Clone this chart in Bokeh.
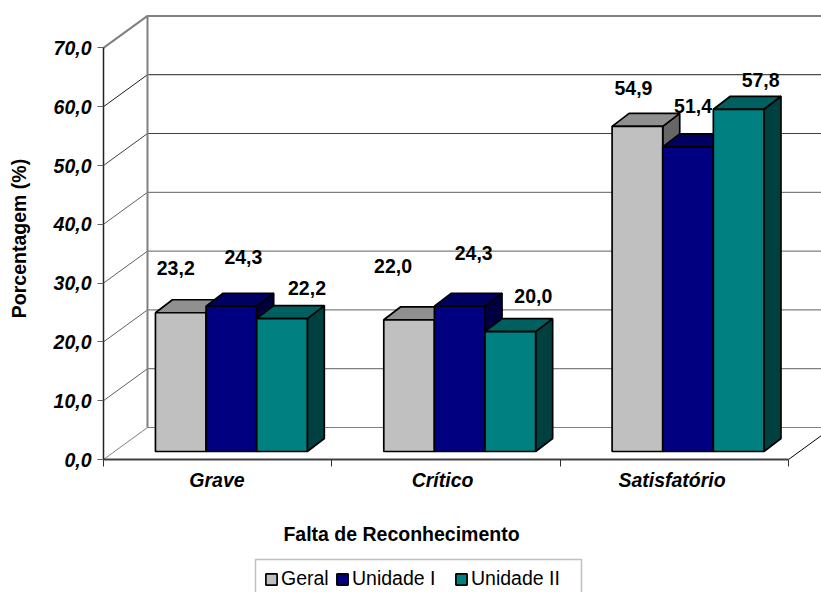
from bokeh.plotting import figure
from bokeh.models import BoxAnnotation, ColumnDataSource, FixedTicker, Legend, LegendItem, Label, Range1d
from bokeh.core.properties import value
from bokeh.embed import file_html
from bokeh.resources import INLINE

categories = ["Grave", "Crítico", "Satisfatório"]
series_names = ["Geral", "Unidade I", "Unidade II"]
geral = [23.2, 22.0, 54.9]
unidade1 = [24.3, 24.3, 51.4]
unidade2 = [22.2, 20.0, 57.8]
y_ticks = [0, 10, 20, 30, 40, 50, 60, 70]
y_labels = ["0,0", "10,0", "20,0", "30,0", "40,0", "50,0", "60,0", "70,0"]
labels = [["23,2", "22,0", "54,9"], ["24,3", "24,3", "51,4"], ["22,2", "20,0", "57,8"]]

values = [geral, unidade1, unidade2]
front = ["#C0C0C0", "#000080", "#008080"]
top = ["#909090", "#000060", "#006060"]
side = ["#666666", "#000040", "#004040"]
grid_colors = ["#808080", "#606060", "#606060", "#606060", "#606060", "#404040", "#202020", "#808080"]
label_dx = [[-5, -16, -4], [12, 14, 5], [25, 23, 22]]
label_dy = [[47, 56, 41], [52, 56, 43], [33, 38, 32]]
legend_x = [264, 335, 454]

FONT = "Liberation Sans"
SIZE = "19.5px"
PX_X, PX_Y = 228.33, 5.88          # pixels per category, pixels per percent
WALL_X, WALL_Y = 0.1927, 5.44      # depth of the back wall in data units
BAR_DX, BAR_DY = 0.0745, 2.21      # depth of a bar
BASE = 1.36                        # gap between floor front edge and bar base
LIFT = 0.4
BAR_W = 0.2217
BAR_START = 0.2275

p = figure(width=821, height=592, frame_width=821, frame_height=592,
           x_range=Range1d(-103 / PX_X, 718 / PX_X), y_range=Range1d(-133 / PX_Y, 459 / PX_Y),
           output_backend="svg", toolbar_location=None,
           min_border_left=0, min_border_right=0, min_border_top=0, min_border_bottom=0)
p.outline_line_color = None
p.xgrid.visible = False
p.ygrid.visible = False
X_END = 718 / PX_X

# back wall and floor
for v, c in zip(y_ticks, grid_colors):
    w = 2 if v == 70 else 1
    p.line([0, WALL_X, X_END], [v, v + WALL_Y, v + WALL_Y], line_color=c, line_width=w)
p.line([WALL_X, WALL_X], [WALL_Y, 70 + WALL_Y], line_color="#808080", line_width=2)
p.line([3, 3 + WALL_X], [0, WALL_Y], line_color="black", line_width=1)

# bars
items = []
for s, vals in enumerate(values):
    l = [i + BAR_START + s * BAR_W for i in range(3)]
    r = [x + BAR_W for x in l]
    b = [BASE] * 3
    t = [BASE + LIFT + v for v in vals]
    p.patches([[x, x + BAR_DX, x + BAR_DX, x] for x in r],
              [[y0, y0 + BAR_DY, y1 + BAR_DY, y1] for y0, y1 in zip(b, t)],
              fill_color=side[s], line_color="black", line_width=1.7)
    p.patches([[x0, x0 + BAR_DX, x1 + BAR_DX, x1] for x0, x1 in zip(l, r)],
              [[y, y + BAR_DY, y + BAR_DY, y] for y in t],
              fill_color=top[s], line_color="black", line_width=1.7)
    q = p.quad(left=l, right=r, bottom=b, top=t, fill_color=front[s],
               line_color="black", line_width=1.7)
    items.append(LegendItem(label=series_names[s], renderers=[q]))

# data labels
for s, vals in enumerate(values):
    src = ColumnDataSource(dict(
        x=[i + BAR_START + (s + 0.5) * BAR_W for i in range(3)],
        y=[BASE + v for v in vals],
        t=labels[s], dx=label_dx[s], dy=[-d for d in label_dy[s]]))
    p.text("x", "y", text="t", source=src, x_offset="dx", y_offset="dy",
           text_font=value(FONT), text_font_style="bold", text_font_size=SIZE,
           text_align="center", text_baseline="middle", text_color="black")

# axes
cat_ticks = [0.497, 1.485, 2.49]
xa = p.xaxis[0]
xa.fixed_location = 0
xa.ticker = FixedTicker(ticks=cat_ticks, minor_ticks=[0, 1, 2, 3])
xa.major_label_overrides = dict(zip(cat_ticks, categories))
xa.bounds = (0, 3)
xa.major_tick_in = 0
xa.major_tick_out = 0
xa.minor_tick_in = 0
xa.minor_tick_out = 7
xa.minor_tick_line_color = "#303030"
xa.axis_line_color = "#404040"
xa.axis_line_width = 2
xa.major_label_standoff = 2
xa.major_label_text_font = FONT
xa.major_label_text_font_style = "bold italic"
xa.major_label_text_font_size = SIZE
xa.major_label_text_color = "black"

ya = p.yaxis[0]
ya.fixed_location = 0
ya.ticker = FixedTicker(ticks=y_ticks)
ya.major_label_overrides = dict(zip(y_ticks, y_labels))
ya.bounds = (0, 70)
ya.major_tick_in = 0
ya.major_tick_out = 6
ya.minor_tick_in = 0
ya.minor_tick_out = 0
ya.major_tick_line_color = "#606060"
ya.axis_line_color = "#202020"
ya.axis_line_width = 1.5
ya.major_label_standoff = 6
ya.major_label_text_font = FONT
ya.major_label_text_font_style = "bold italic"
ya.major_label_text_font_size = SIZE
ya.major_label_text_color = "black"

p.add_layout(Label(x=401, y=592 - 533, x_units="screen", y_units="screen",
                   text="Falta de Reconhecimento", text_font=FONT, text_font_style="bold",
                   text_font_size=SIZE, text_align="center", text_baseline="middle",
                   text_color="black"))
p.add_layout(Label(x=18, y=592 - 238, x_units="screen", y_units="screen", angle=90, angle_units="deg",
                   text="Porcentagem (%)", text_font=FONT, text_font_style="bold",
                   text_font_size=SIZE, text_align="center", text_baseline="middle",
                   text_color="black"))

# legend frame and entries
p.add_layout(BoxAnnotation(left=(255 - 103) / PX_X, right=(581 - 103) / PX_X,
                           top=(459 - 559) / PX_Y, bottom=(459 - 600) / PX_Y,
                           fill_color="white", fill_alpha=1,
                           line_color="#303030", line_width=1.5))
for it, lx in zip(items, legend_x):
    p.add_layout(Legend(items=[it], orientation="horizontal", location=(lx, 2),
                        border_line_color=None, background_fill_alpha=0,
                        label_text_font=FONT, label_text_font_size="19.5px", label_text_color="black",
                        glyph_width=14, glyph_height=14, label_standoff=3, spacing=0,
                        padding=0, margin=0), "center")

open("out.html", "w").write(file_html(p, INLINE))
